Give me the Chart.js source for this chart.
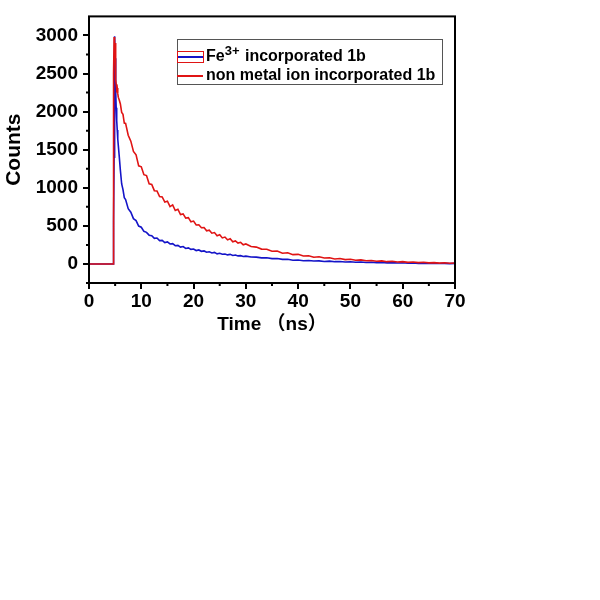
<!DOCTYPE html>
<html>
<head>
<meta charset="utf-8">
<script src="https://cdn.jsdelivr.net/npm/chart.js@4.4.0/dist/chart.umd.min.js"></script>
<style>
    body { margin: 0; background: #fff; }
</style>
</head>
<body>
<canvas id="decayChart" width="600" height="600"></canvas>
<script>
// time axis (ns) - finer sampling around the excitation pulse
const times = [
    0, 4.6, 4.7, 4.8, 4.9, 5.0, 5.1, 5.2, 5.3, 5.4, 5.5, 5.6, 5.8, 6.0, 6.25, 6.5, 6.75, 7.0,
    7.5, 8, 8.5, 9, 9.5, 10, 10.5, 11, 11.5, 12, 12.5, 13, 13.5, 14, 14.5, 15, 15.5, 16, 16.5,
    17, 17.5, 18, 18.5, 19, 19.5, 20, 20.5, 21, 21.5, 22, 22.5, 23, 23.5, 24, 24.5, 25, 25.5,
    26, 26.5, 27, 27.5, 28, 28.5, 29, 29.5, 30,
    31, 32, 33, 34, 35, 36, 37, 38, 39, 40, 41, 42, 43, 44, 45, 46, 47, 48, 49, 50,
    51, 52, 53, 54, 55, 56, 57, 58, 59, 60, 61, 62, 63, 64, 65, 66, 67, 68, 69, 70
];

// Fe3+ incorporated 1b (blue) - counts
const fe3Counts = [
    0, 0, 560, 1400, 2990, 2700, 2280, 2050, 1880, 1760, 1640, 1560, 1400, 1230, 1050, 975, 870, 845,
    725, 680, 595, 570, 498, 482, 428, 415, 378, 372, 336, 341, 306, 310, 281, 289, 262, 266, 240,
    244, 221, 229, 203, 211, 191, 196, 176, 184, 166, 171, 154, 160, 145, 152, 133, 141, 128,
    131, 119, 126, 112, 118, 106, 109, 98, 103,
    92, 90, 80, 81, 70, 72, 60, 61, 49, 52, 43, 46, 38, 41, 33, 37, 30, 32, 26, 29,
    22, 26, 19, 23, 17, 19, 14, 17, 12, 15, 10, 12, 8, 11, 7, 10, 6, 8, 5, 7
];

// non metal ion incorporated 1b (red)
const nonMetalCounts = [
    0, 0, 2500, 2980, 2700, 2900, 2420, 2360, 2290, 2310, 2240, 2190, 2150, 2100, 1990, 1965, 1850, 1845,
    1690, 1612, 1478, 1432, 1288, 1276, 1172, 1161, 1052, 1044, 962, 958, 884, 880, 812, 824, 752, 775, 702,
    718, 648, 657, 602, 608, 553, 563, 512, 515, 476, 479, 436, 444, 404, 412, 371, 383, 342,
    353, 316, 331, 291, 302, 274, 284, 251, 263,
    229, 221, 195, 193, 166, 169, 141, 147, 122, 126, 104, 108, 89, 94, 78, 81, 66, 71, 57, 61,
    48, 53, 42, 46, 36, 40, 30, 35, 25, 30, 21, 26, 17, 22, 14, 18, 11, 15, 9, 12
];

const seriesLabels = ['Fe\u00B3\u207A incorporated 1b', 'non metal ion incorporated 1b'];
const seriesColors = ['#1414c8', '#e01414'];

const xTickValues = [0, 10, 20, 30, 40, 50, 60, 70];
const xMinorTicks = [5, 15, 25, 35, 45, 55, 65];
const yTickValues = [0, 500, 1000, 1500, 2000, 2500, 3000];
const yMinorTicks = [-250, 250, 750, 1250, 1750, 2250, 2750];

Chart.defaults.font.family = "'Liberation Sans', Arial, 'Noto Sans CJK SC', sans-serif";
Chart.defaults.color = '#000';

function toPoints(values) {
    return times.map((t, i) => ({ x: t, y: values[i] }));
}

// frame, minor ticks and the inset legend
const frameAndLegend = {
    id: 'frameAndLegend',
    afterDatasetsDraw(chart) {
        const ctx = chart.ctx;
        const area = chart.chartArea;
        const xs = chart.scales.x;
        const ys = chart.scales.y;
        ctx.save();
        ctx.strokeStyle = '#000';
        ctx.lineWidth = 2;
        ctx.strokeRect(area.left, area.top, area.right - area.left, area.bottom - area.top);

        ctx.beginPath();
        xMinorTicks.forEach(v => {
            const px = xs.getPixelForValue(v);
            ctx.moveTo(px, area.bottom);
            ctx.lineTo(px, area.bottom + 3);
        });
        yMinorTicks.forEach(v => {
            const py = ys.getPixelForValue(v);
            ctx.moveTo(area.left, py);
            ctx.lineTo(area.left - 3, py);
        });
        ctx.stroke();

        // legend box
        const lx = 177, ly = 39, lw = 265, lh = 45;
        ctx.fillStyle = '#fff';
        ctx.fillRect(lx, ly, lw, lh);
        ctx.strokeStyle = '#555';
        ctx.lineWidth = 1;
        ctx.strokeRect(lx + 0.5, ly + 0.5, lw, lh);

        chart.data.datasets.forEach((ds, i) => {
            const y = ly + 18 + i * 19;
            ctx.strokeStyle = ds.borderColor;
            ctx.lineWidth = 2;
            ctx.beginPath();
            ctx.moveTo(lx, y);
            ctx.lineTo(lx + 26, y);
            ctx.stroke();
            if (i === 0) {
                ctx.strokeStyle = seriesColors[1];
                ctx.lineWidth = 1;
                ctx.strokeRect(lx + 0.5, y - 5.5, 26, 11);
            }
            // label, with the ion charge as a raised superscript
            ctx.fillStyle = '#000';
            ctx.textBaseline = 'middle';
            ctx.textAlign = 'left';
            let tx = lx + 29;
            ds.label.split(/([\u00B3\u207A]+)/).forEach(part => {
                if (!part) return;
                if (/[\u00B3\u207A]/.test(part)) {
                    const sup = part.replace(/\u00B3/g, '3').replace(/\u207A/g, '+');
                    ctx.font = "bold 13px 'Liberation Sans', Arial, sans-serif";
                    ctx.fillText(sup, tx, y - 6);
                    tx += ctx.measureText(sup).width + 1;
                } else {
                    ctx.font = "bold 16px 'Liberation Sans', Arial, sans-serif";
                    ctx.fillText(part, tx, y);
                    tx += ctx.measureText(part).width;
                }
            });
        });
        ctx.restore();
    }
};

new Chart(document.getElementById('decayChart'), {
    type: 'line',
    data: {
        datasets: [{
            label: seriesLabels[0],
            data: toPoints(fe3Counts),
            borderColor: seriesColors[0],
            borderWidth: 1.6,
            pointRadius: 0,
            tension: 0,
            order: 1
        }, {
            label: seriesLabels[1],
            data: toPoints(nonMetalCounts),
            borderColor: seriesColors[1],
            borderWidth: 1.6,
            pointRadius: 0,
            tension: 0,
            order: 0
        }]
    },
    options: {
        responsive: false,
        animation: false,
        layout: {
            padding: { left: 0, top: 10, right: 145, bottom: 257 }
        },
        plugins: {
            legend: { display: false },
            tooltip: { enabled: false }
        },
        scales: {
            x: {
                type: 'linear',
                min: 0,
                max: 70,
                afterBuildTicks: scale => { scale.ticks = xTickValues.map(v => ({ value: v })); },
                afterFit: scale => { scale.height = 60; },
                border: { display: false },
                grid: { drawOnChartArea: false, tickLength: 6, color: '#000', lineWidth: 2 },
                ticks: { padding: 1, maxRotation: 0, font: { size: 19, weight: 'bold' } },
                title: {
                    display: true,
                    text: 'Time \uFF08ns\uFF09',
                    font: { size: 19, weight: 'bold' },
                    padding: { top: 0, bottom: 7 }
                }
            },
            y: {
                min: -250,
                max: 3250,
                afterBuildTicks: scale => { scale.ticks = yTickValues.map(v => ({ value: v })); },
                afterFit: scale => { scale.width = 89; },
                border: { display: false },
                grid: { drawOnChartArea: false, tickLength: 6, color: '#000', lineWidth: 2 },
                ticks: {
                    padding: 5,
                    font: { size: 19, weight: 'bold' },
                    callback: value => String(value)
                },
                title: {
                    display: true,
                    text: 'Counts',
                    font: { size: 21, weight: 'bold' },
                    padding: { top: 2, bottom: 0 }
                }
            }
        }
    },
    plugins: [frameAndLegend]
});
</script>
</body>
</html>
